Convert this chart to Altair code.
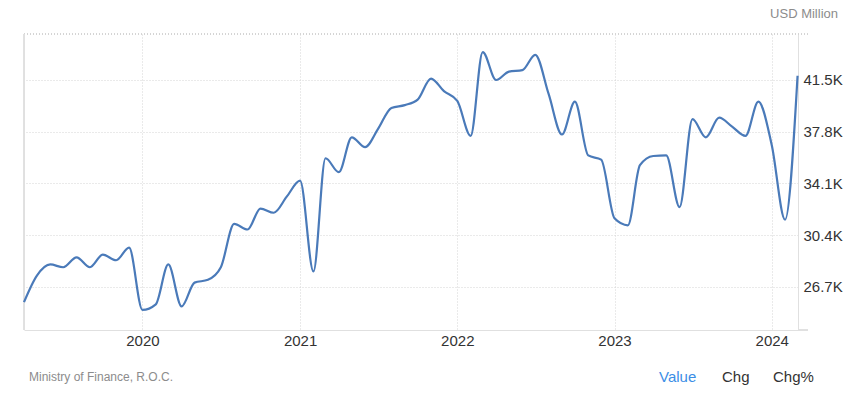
import altair as alt
import pandas as pd

# Monthly values, USD Million (Apr 2019 - Mar 2024)
values = [
    25600, 27500, 28300, 28100, 28800, 28100, 29000, 28600, 29500,
    25050, 25450, 28300, 25300, 27000, 27200, 28100, 31200, 30800, 32300, 32000, 33150,
    34300, 27800, 35900, 34900, 37400, 36700, 38000, 39500, 39700, 40100, 41600, 40700,
    40000, 37500, 43500, 41500, 42100, 42200, 43300, 40500, 37600, 39950, 36100, 35800,
    31600, 31100, 35400, 36060, 36100, 32400, 38700, 37400, 38800, 38160, 37500, 39950,
    36850, 31500, 41800,
]
months = pd.date_range("2019-04-01", periods=len(values), freq="MS")
y_ticks = [26700, 30400, 34100, 37800, 41500]
year_ticks = ["2020-01-01", "2021-01-01", "2022-01-01", "2023-01-01", "2024-01-01"]
unit_label = "USD Million"
source_label = "Ministry of Finance, R.O.C."
tabs = ["Value", "Chg", "Chg%"]
tab_colors = ["#3b8ee6", "#333333", "#333333"]

df = pd.DataFrame({"date": months, "value": values})

W, H = 774, 296
FONT = "Liberation Sans"
GRID = "#d4d4d4"

x_enc = alt.X(
    "date:T",
    scale=alt.Scale(domain=["2019-04-01", "2024-03-02"]),
    axis=alt.Axis(
        values=[pd.Timestamp(d).isoformat() for d in year_ticks],
        format="%Y",
        title=None,
        grid=True,
        gridColor=GRID,
        gridDash=[1, 2],
        domainColor="#e0e0e0",
        ticks=False,
        labelFontSize=15,
        labelColor="#333333",
        labelFont=FONT,
        labelPadding=3,
    ),
)
y_enc = alt.Y(
    "value:Q",
    scale=alt.Scale(domain=[23610, 44790], nice=False, zero=False),
    axis=alt.Axis(
        orient="right",
        values=y_ticks,
        labelExpr="format(datum.value/1000, '.1f') + 'K'",
        title=None,
        grid=True,
        gridColor=GRID,
        gridDash=[1, 2],
        domainColor="#e0e0e0",
        ticks=False,
        labelFontSize=15,
        labelColor="#333333",
        labelFont=FONT,
        labelPadding=5,
    ),
)

line = alt.Chart(df).mark_line(
    color="#4a7ab9", strokeWidth=2.2, interpolate="monotone"
).encode(x=x_enc, y=y_enc)

left_border = alt.Chart(df).mark_rule(color="#e0e0e0").encode(
    x=alt.value(0), y=alt.value(0), y2=alt.value(H)
)
top_border = alt.Chart(df).mark_rule(color=GRID, strokeDash=[1, 2]).encode(
    x=alt.value(0), x2=alt.value(W + 10), y=alt.value(0)
)
bottom_ext = alt.Chart(df).mark_rule(color="#e0e0e0").encode(
    x=alt.value(W), x2=alt.value(W + 10), y=alt.value(H)
)

unit_txt = alt.Chart(pd.DataFrame({"t": [unit_label]})).mark_text(
    align="right", baseline="middle", fontSize=13, color="#8c8c8c", font=FONT
).encode(text="t:N", x=alt.value(814), y=alt.value(-20))

src_txt = alt.Chart(pd.DataFrame({"t": [source_label]})).mark_text(
    align="left", baseline="middle", fontSize=12, color="#8c8c8c", font=FONT
).encode(text="t:N", x=alt.value(5), y=alt.value(343))

tab_layers = [
    alt.Chart(pd.DataFrame({"t": [t]})).mark_text(
        align="left", baseline="middle", fontSize=15, color=c, font=FONT
    ).encode(text="t:N", x=alt.value(p), y=alt.value(343))
    for t, p, c in zip(tabs, [635, 698, 749], tab_colors)
]

chart = alt.layer(
    top_border, left_border, bottom_ext, line, unit_txt, src_txt, *tab_layers
).properties(
    width=W,
    height=H,
    autosize=alt.AutoSizeParams(type="none"),
    padding={"left": 24, "top": 34, "right": 857 - 24 - W, "bottom": 397 - 34 - H},
    background="white",
).configure_view(stroke=None)

chart.save("out.html", embed_options={"renderer": "svg", "actions": False})
